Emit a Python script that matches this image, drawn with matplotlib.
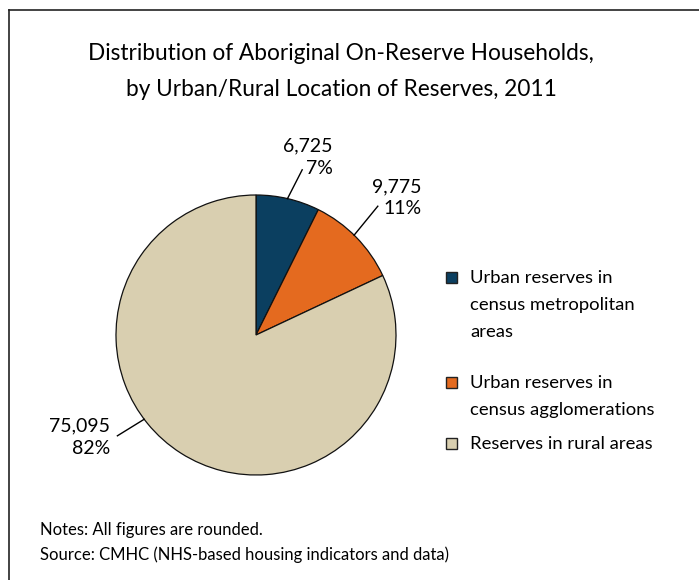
import matplotlib.pyplot as plt
from matplotlib.lines import Line2D
import numpy as np

plt.rcParams['font.family'] = ['Lato', 'DejaVu Sans']

# data
categories = ["Urban reserves in\ncensus metropolitan\nareas",
              "Urban reserves in\ncensus agglomerations",
              "Reserves in rural areas"]
households = [6725, 9775, 75095]
shares = [7, 11, 82]
colors = ['#0b3f60', '#e46a1f', '#d9cfb0']

W, H = 699, 580
fig = plt.figure(figsize=(W / 100, H / 100), dpi=100)

# frame: top and left lines only
fig.add_artist(Line2D([9 / W, 9 / W], [0, 1 - 10 / H], color='#222222', lw=1.2, transform=fig.transFigure))
fig.add_artist(Line2D([9 / W, 1], [1 - 10 / H, 1 - 10 / H], color='#222222', lw=1.2, transform=fig.transFigure))

# pie axes, centre (256, 335) radius 140 px
cx, cy, r = 256, 335, 140
ax = fig.add_axes([(cx - r) / W, 1 - (cy + r) / H, 2 * r / W, 2 * r / H])
wedges, _ = ax.pie(households, colors=colors, startangle=90, counterclock=False,
                   wedgeprops=dict(edgecolor='#111111', linewidth=0.9))
ax.set_xlim(-1, 1)
ax.set_ylim(-1, 1)
ax.set_aspect('equal')
ax.axis('off')

# labels with leader lines (anchor angle on rim, text position, line end)
label_pos = [(77, (0.55, 1.27), (0.33, 1.18)),
             (45.5, (1.18, 0.98), (0.87, 0.92)),
             (217, (-1.04, -0.73), (-0.99, -0.72))]
for val, pct, (ang, (tx, ty), (lx, ly)) in zip(households, shares, label_pos):
    a = np.deg2rad(ang)
    x0, y0 = np.cos(a), np.sin(a)
    ax.plot([x0, lx], [y0, ly], color='black', lw=1, clip_on=False)
    ax.text(tx, ty, f"{val:,}\n{pct}%", ha='right', va='center', fontsize=14,
            linespacing=1.35, clip_on=False)

# title
fig.text(341 / W, 1 - 53 / H, "Distribution of Aboriginal On-Reserve Households,",
         ha='center', va='center', fontsize=16.3)
fig.text(341 / W, 1 - 89 / H, "by Urban/Rural Location of Reserves, 2011",
         ha='center', va='center', fontsize=16.3)

# legend
leg_y = [277, 382, 443]
for cat, col, y in zip(categories, colors, leg_y):
    fig.patches.append(plt.Rectangle((446 / W, 1 - (y + 6) / H), 11 / W, 11 / H,
                                     facecolor=col, edgecolor='#222222', lw=1,
                                     transform=fig.transFigure))
    fig.text(470 / W, 1 - (y - 7) / H, cat, ha='left', va='top', fontsize=13.3, linespacing=1.85)

# notes
fig.text(40 / W, 1 - 530 / H, "Notes: All figures are rounded.", ha='left', va='center', fontsize=12)
fig.text(40 / W, 1 - 555 / H, "Source: CMHC (NHS-based housing indicators and data)",
         ha='left', va='center', fontsize=12)

fig.savefig('out.png', dpi=100, facecolor='white')
